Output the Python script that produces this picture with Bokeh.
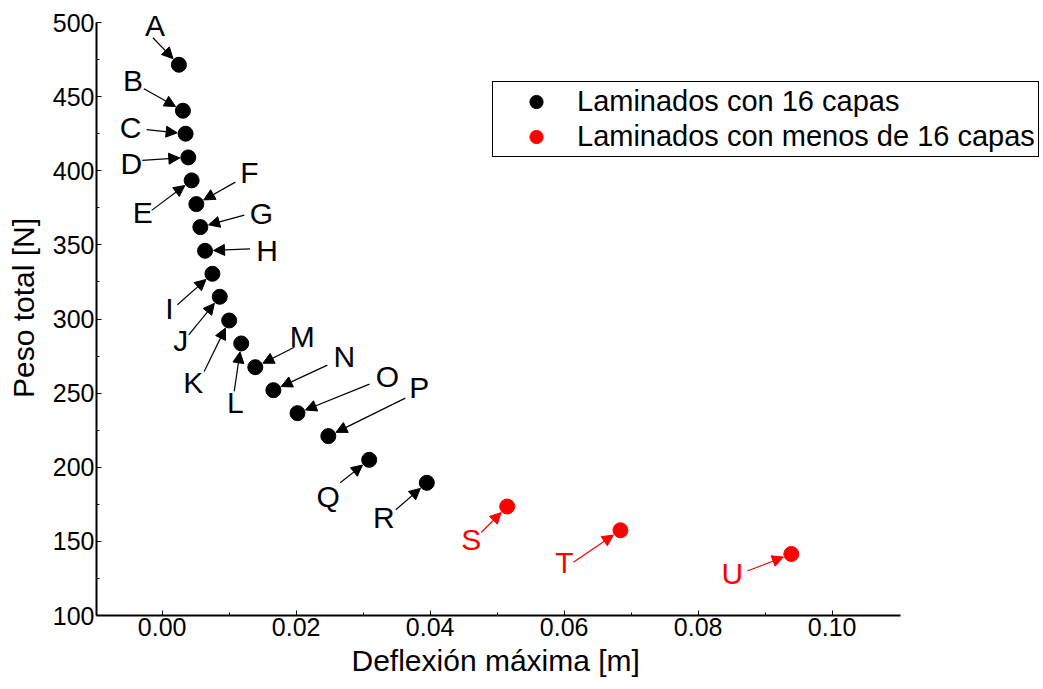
import math
from bokeh.plotting import figure
from bokeh.models import (Range1d, FixedTicker, PrintfTickFormatter, Arrow, NormalHead,
                          ColumnDataSource, LabelSet, Legend, Title)
from bokeh.core.properties import value
from bokeh.embed import file_html
from bokeh.resources import INLINE

# ---------------- data ----------------
labels16 = ["A", "B", "C", "D", "E", "F", "G", "H", "I", "J", "K", "L", "M", "N", "O", "P", "Q", "R"]
defl16 = [0.0025, 0.0031, 0.0035, 0.0039, 0.0044, 0.0051, 0.0057, 0.0064, 0.0075, 0.0086,
          0.0100, 0.0118, 0.0139, 0.0166, 0.0202, 0.0248, 0.0309, 0.0395]
peso16 = [471.5, 440.5, 425.0, 409.0, 393.5, 377.5, 362.0, 346.0, 330.5, 315.0,
          299.0, 283.5, 267.5, 252.0, 236.5, 221.0, 205.0, 189.5]

labelsLess = ["S", "T", "U"]
deflLess = [0.0515, 0.0684, 0.0939]
pesoLess = [173.5, 157.5, 141.5]

x_ticks = [0.00, 0.02, 0.04, 0.06, 0.08, 0.10]
y_ticks = [100, 150, 200, 250, 300, 350, 400, 450, 500]

# annotation layout (screen-pixel offsets from each point: label centre, arrow tail)
label_off16 = [(-24, -39), (-50, -30), (-55, -6), (-57, 6), (-49, 32), (53, -32), (61, -14),
               (62, 0), (-43, 35), (-39, 44), (-36, 62), (-6, 59), (47, -31), (71, -34),
               (90, -37), (91, -49), (-41, 37), (-43, 35)]
tail_off16 = [(-26, -27), (-39, -22), (-39, -4), (-46, 3), (-40, 30), (39, -22), (44, -12),
              (45, -2), (-35, 31), (-31, 38), (-25, 51), (-7, 48), (39, -20), (54, -25),
              (72, -29), (77, -38), (-29, 23), (-31, 27)]
label_offLess = [(-36, 33), (-56, 32), (-59, 20)]
tail_offLess = [(-26, 26), (-47, 32), (-44, 17)]

# ---------------- figure ----------------
W, H = 1043, 689
ML, MR, MT, MB = 96, 0, 0, 74
AX_X0, AX_X1 = -0.0098, 0.1102      # drawn axis extents
AX_Y0, AX_Y1 = 100, 500
sx = (900 - ML) / (AX_X1 - AX_X0)   # px per data unit
sy = (H - MB - 22) / (AX_Y1 - AX_Y0)
X1 = AX_X0 + (W - ML - MR) / sx
Y1 = AX_Y1 + 22 / sy

p = figure(width=W, height=H, output_backend="svg", toolbar_location=None,
           x_range=Range1d(AX_X0, X1), y_range=Range1d(AX_Y0, Y1),
           min_border_left=ML, min_border_right=MR, min_border_top=MT, min_border_bottom=MB)
p.xgrid.visible = False
p.ygrid.visible = False
p.outline_line_color = None
p.background_fill_color = "white"
p.border_fill_color = "white"

FONT = "Liberation Sans"

for ax in (p.xaxis[0], p.yaxis[0]):
    ax.axis_line_width = 2
    ax.axis_line_color = "black"
    ax.major_tick_in = 5
    ax.major_tick_out = 0
    ax.minor_tick_in = 3
    ax.minor_tick_out = 0
    ax.major_tick_line_width = 1
    ax.minor_tick_line_width = 1
    ax.major_label_text_font = FONT
    ax.major_label_text_font_size = "25px"
    ax.major_label_text_color = "black"
    ax.axis_label_text_font = FONT
    ax.axis_label_text_font_size = "30px"
    ax.axis_label_text_font_style = "normal"
    ax.axis_label_text_color = "black"

p.xaxis.ticker = FixedTicker(ticks=x_ticks, minor_ticks=[0.01, 0.03, 0.05, 0.07, 0.09])
p.xaxis.formatter = PrintfTickFormatter(format="%.2f")
p.yaxis.ticker = FixedTicker(ticks=y_ticks, minor_ticks=[125, 175, 225, 275, 325, 375, 425, 475])
p.xaxis.bounds = (AX_X0, AX_X1)
p.yaxis.bounds = (AX_Y0, AX_Y1)
p.yaxis.axis_label = "Peso total [N]"
p.xaxis.major_label_standoff = 2
p.yaxis.major_label_standoff = 2
p.yaxis.axis_label_standoff = 10

# x-axis title, centred under the drawn axis (not the wider frame)
p.add_layout(Title(text="Deflexión máxima [m]", align="left", offset=255,
                   text_font=FONT, text_font_size="30px", text_font_style="normal",
                   text_color="black", standoff=6), "below")

r16 = p.scatter(defl16, peso16, size=15, fill_color="black", line_color="black")
rLess = p.scatter(deflLess, pesoLess, size=15, fill_color="#ff0000", line_color="#ff0000")


def annotate(xs, ys, names, loffs, toffs, color):
    lx, ly = [], []
    for x, y, lo, to in zip(xs, ys, loffs, toffs):
        lx.append(x + lo[0] / sx)
        ly.append(y - lo[1] / sy)
        d = math.hypot(to[0], to[1])
        ex, ey = to[0] / d * 8.5, to[1] / d * 8.5
        p.add_layout(Arrow(
            end=NormalHead(size=11, fill_color=color, line_color=color, line_width=1),
            x_start=x + to[0] / sx, y_start=y - to[1] / sy,
            x_end=x + ex / sx, y_end=y - ey / sy,
            line_color=color, line_width=1.2))
    src = ColumnDataSource(dict(x=lx, y=ly, t=names))
    p.add_layout(LabelSet(x="x", y="y", text="t", source=src, text_align="center",
                          text_baseline="middle", text_font=value(FONT),
                          text_font_size="30px", text_color=color))


annotate(defl16, peso16, labels16, label_off16, tail_off16, "black")
annotate(deflLess, pesoLess, labelsLess, label_offLess, tail_offLess, "#ff0000")

legend = Legend(items=[("Laminados con 16 capas", [r16]),
                       ("Laminados con menos de 16 capas", [rLess])],
                location=(492 - ML, (H - MB) - 157))
legend.label_text_font = FONT
legend.label_text_font_size = "29px"
legend.label_text_color = "black"
legend.label_height = 33
legend.glyph_height = 33
legend.glyph_width = 80
legend.label_standoff = 1
legend.padding = 3
legend.spacing = 2
legend.margin = 0
legend.border_line_color = "black"
legend.border_line_width = 1
legend.border_line_alpha = 1
legend.background_fill_alpha = 1
p.add_layout(legend, "center")

open("out.html", "w").write(file_html(p, INLINE))
